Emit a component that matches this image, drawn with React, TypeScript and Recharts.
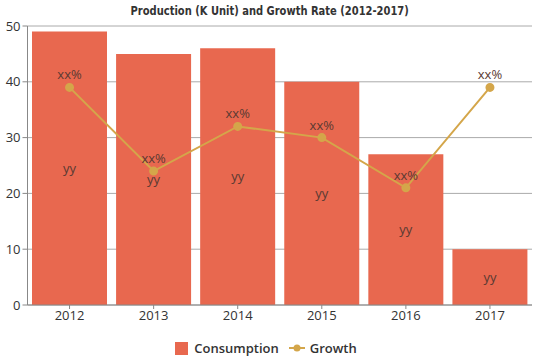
import { Bar, CartesianGrid, ComposedChart, LabelList, Legend, Line, XAxis, YAxis } from "recharts";

const years = ["2012", "2013", "2014", "2015", "2016", "2017"];
const consumption = [49, 45, 46, 40, 27, 10];
const growth = [39, 24, 32, 30, 21, 39];
const yTicks = [0, 10, 20, 30, 40, 50];

const BAR = "#e8684f";
const LINE = "#d4a64a";
const FONT = "'Open Sans', 'Noto Sans', sans-serif";

const data = years.map((year, i) => ({
  year,
  consumption: consumption[i],
  growth: growth[i],
}));

function LegendBox() {
  return (
    <div
      style={{
        display: "flex",
        justifyContent: "center",
        alignItems: "center",
        height: 30,
        boxSizing: "border-box",
        paddingTop: 8,
        fontFamily: FONT,
        fontSize: 13,
        fontWeight: 600,
        color: "#333",
      }}
    >
      <span style={{ width: 13, height: 13, background: BAR, marginRight: 6 }} />
      <span style={{ marginRight: 10 }}>Consumption</span>
      <svg width={16} height={10} style={{ marginRight: 5 }}>
        <line x1={0} y1={5} x2={16} y2={5} stroke={LINE} strokeWidth={2} />
        <circle cx={8} cy={5} r={3.5} fill={LINE} />
      </svg>
      <span>Growth</span>
    </div>
  );
}

export default function App() {
  return (
    <div style={{ position: "absolute", left: 0, top: 0, width: 539, height: 359, background: "#fff" }}>
      <div style={{ position: "absolute", top: 1, left: 0, width: 539, textAlign: "center" }}>
        <span
          style={{
            display: "inline-block",
            transform: "scaleX(0.85)",
            fontFamily: "'DejaVu Sans Condensed', sans-serif",
            fontWeight: 700,
            fontSize: 13,
            color: "#333",
          }}
        >
          Production (K Unit) and Growth Rate (2012-2017)
        </span>
      </div>
      <ComposedChart
        width={539}
        height={359}
        data={data}
        margin={{ top: 26, right: 7, bottom: 0, left: 0 }}
        barCategoryGap={4.5}
      >
        <CartesianGrid vertical={false} stroke="#aaa" />
        <XAxis
          dataKey="year"
          height={24}
          tick={{ fill: "#333", fontSize: 13, fontFamily: FONT }}
          tickLine={{ stroke: "#888" }}
          tickSize={4}
          axisLine={{ stroke: "#888" }}
        />
        <YAxis
          width={27.5}
          domain={[0, 50]}
          ticks={yTicks}
          tick={{ fill: "#333", fontSize: 13, fontFamily: FONT }}
          tickLine={{ stroke: "#888" }}
          tickSize={5}
          axisLine={{ stroke: "#888" }}
        />
        <Legend verticalAlign="bottom" content={<LegendBox />} />
        <Bar dataKey="consumption" name="Consumption" fill={BAR} isAnimationActive={false}>
          <LabelList
            dataKey="consumption"
            position="center"
            formatter={() => "yy"}
            fill="#5a3a32"
            fontSize={13}
            fontFamily={FONT}
          />
        </Bar>
        <Line
          dataKey="growth"
          name="Growth"
          stroke={LINE}
          strokeWidth={2}
          dot={{ r: 3.5, fill: LINE, stroke: LINE }}
          isAnimationActive={false}
        >
          <LabelList
            dataKey="growth"
            position="top"
            offset={8}
            formatter={() => "xx%"}
            fill="#5a3a32"
            fontSize={13}
            fontFamily={FONT}
          />
        </Line>
      </ComposedChart>
    </div>
  );
}
